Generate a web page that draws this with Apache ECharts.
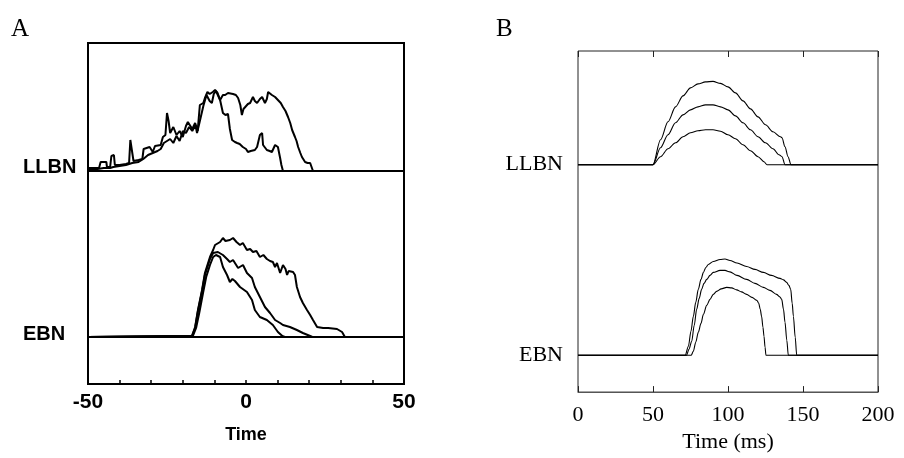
<!DOCTYPE html>
<html>
<head>
<meta charset="utf-8">
<script src="https://cdn.jsdelivr.net/npm/echarts@6/dist/echarts.min.js"></script>
<style>
html,body{margin:0;padding:0;background:#fff;}
#chart{width:904px;height:458px;}
</style>
</head>
<body>
<div id="chart"></div>
<script>
// ---------- DATA ----------
// Panel A (recorded, time in ms re saccade onset; firing in arbitrary units)
const aTicksShown = [-50, 0, 50];
const aLlbn1 = [[-50,3],[-48,3],[-46.5,3],[-46,9],[-44.2,9],[-44,4],[-43,4],[-42.6,15],[-41.8,16],[-41.5,6],[-40,6],[-38,7],[-37,8],[-36.6,31],[-36,30],[-35.6,10],[-34,11],[-32.8,12],[-32.4,22],[-30.5,24],[-29.5,19],[-28.8,25],[-27,26],[-26.3,34],[-25.5,36],[-25,58],[-24.5,50],[-24,38],[-23,44],[-22,36],[-21,40],[-20,34],[-19,45],[-18.4,49],[-17,42],[-16.1,48],[-15.3,40],[-14.6,66],[-13.5,68],[-13,73],[-12.2,79],[-11.5,77],[-10.5,79],[-9.8,81],[-9,78],[-8.2,71],[-7.3,58],[-6.5,56],[-5.7,57],[-5.1,42],[-4.4,31],[-3.5,29],[-2.8,28],[-2,27],[-1,24],[0,22],[0.6,19],[1.5,20],[2.8,21],[3.5,24],[4.4,36],[5.1,38],[5.4,26],[6.6,21],[7.5,20],[8.2,19],[9.2,26],[10.1,24],[10.8,13],[11.2,6],[11.7,0],[50,0]];
const aLlbn2 = [[-50,2],[-47,2],[-45,3],[-43,3],[-42,4],[-40,5],[-38,6],[-36,8],[-34,9],[-32.5,12],[-31,16],[-29.5,18],[-28,20],[-27,22],[-26,28],[-25,30],[-24,32],[-23,28],[-22,35],[-21,30],[-20,40],[-19,38],[-18,44],[-17,40],[-16,46],[-15.5,38],[-14.6,50],[-13.5,65],[-12.5,76],[-11.5,70],[-10.8,68],[-10.2,77],[-9.5,80],[-8.9,78],[-8.2,71],[-7.3,76],[-6.6,76],[-5.7,78],[-5.1,78],[-4.1,77],[-3.2,76],[-2.5,73],[-1.8,66],[-1.3,56],[-0.8,62],[-0.3,64],[0.6,67],[1.3,68],[2.2,74],[2.8,70],[3.5,68],[4.4,72],[5.1,74],[6,68],[6.6,72],[7.0,79],[7.6,78],[8.2,76],[9.2,74],[10.1,71],[11,68],[11.7,64],[12.5,60],[13.3,54],[14,48],[14.6,41],[15.5,34],[16,30],[16.5,24],[17.2,18],[17.7,14],[18.7,9],[19.5,8],[20.3,8],[21.2,0],[50,0]];
const aEbn1 = [[-50,0],[-16.8,1],[-15.8,9],[-14.8,24],[-13.6,44],[-12.6,60],[-11.4,72],[-10.4,80],[-9.5,82],[-8.9,84],[-8.2,80],[-7.3,70],[-6,62],[-5.1,55],[-4.3,58],[-3.5,56],[-1.9,50],[0.3,45],[1.9,37],[2.8,27],[4.4,20],[6.6,17],[8.5,12],[10.1,5],[11.5,1],[12.3,0],[50,0]];
const aEbn2 = [[-50,0],[-17.1,1],[-16.1,9],[-15.2,26],[-13.9,46],[-13,62],[-11.4,78],[-10.4,84],[-8.9,85],[-7.3,82],[-6,78],[-5.1,75],[-4.1,77],[-2.5,69],[-0.95,72],[0.3,64],[1.9,59],[2.8,50],[4.4,40],[6,30],[7.6,24],[9.2,17],[10.8,14],[11.7,12],[13.9,10],[16.1,7],[18,4],[20.3,1],[21,0],[50,0]];
const aEbn3 = [[-50,0],[-17.1,1],[-16.1,10],[-15.2,27],[-13.9,47],[-13,64],[-11.4,80],[-10.4,87],[-9.8,92],[-8.2,95],[-7.3,99],[-6.5,96],[-5.1,97],[-4.1,99],[-3,95],[-1.9,92],[-1,94],[0.3,87],[1.3,88],[2.2,85],[3.3,86],[4.4,80],[5.5,82],[6.6,78],[7.6,76],[8.5,75],[9.2,70],[9.8,74],[10.8,64],[11.7,72],[12.5,68],[13,62],[13.5,66],[14.9,65],[15.5,62],[16.1,50],[17.1,40],[18,34],[19.3,27],[20.3,22],[21.2,17],[22.5,10],[24.4,9],[26,9],[28.8,8],[30.4,5],[31.3,0],[50,0]];
const aBaseline = [[-50,0],[50,0]];

// Panel B (model, time in ms)
const bTicks = [0, 50, 100, 150, 200];
const bLlbn1 = [[0,0],[50,0],[55,25],[60,43],[65,58],[70,69],[75,77],[80,81],[85,83],[90,83.5],[95,81.5],[100,78],[105,72],[110,64],[115,56],[120,48],[125,40],[130,33],[135,28],[136,27],[138,18],[140,8],[142,0],[200,0]];
const bLlbn2 = [[0,0],[50,0],[55,17],[60,30],[65,42],[70,50],[75,55],[80,58],[85,60],[90,60],[95,58],[100,55],[105,49],[110,42],[115,35],[120,28],[125,22],[130,16],[134,10],[136,8],[138,0],[200,0]];
const bLlbn3 = [[0,0],[50,0],[55,8],[60,16],[65,22],[70,28],[75,32],[80,34],[85,35],[90,35],[95,33.5],[100,30],[105,26],[110,20],[115,14],[120,8],[124,3],[126,0],[200,0]];
const bEbn1 = [[0,0],[71.5,0],[73.6,9],[75.3,24],[76.9,39],[78.5,53],[80.2,66],[82,76],[83.6,83],[85.2,88],[86.9,91],[90.2,94],[94.7,96],[98,96.5],[101.3,95],[106,92.5],[112.4,89],[118,86],[123.6,83],[129,80],[134.7,77],[137,75.5],[139.1,73],[140.6,70],[141.8,66],[142.8,52],[143.6,39],[144.8,18],[145.8,0],[200,0]];
const bEbn2 = [[0,0],[72.4,0],[74,6],[75.8,14],[77.5,30],[79.1,46],[80.8,57],[82.4,66],[84,72],[85.8,76],[88,80],[90.2,83],[94.7,85],[98,85],[101.3,83.5],[106,80],[112.4,76],[118,72],[123.6,68],[128,65],[132.4,61],[134.5,58.5],[135.8,56],[137,46],[138,33],[139.2,15],[140.2,0],[200,0]];
const bEbn3 = [[0,0],[75.5,0],[76.9,4],[78.5,13],[80.2,23],[82,32],[83.6,41],[85.8,50],[88,56],[90.2,61],[92.4,64],[95.5,66.5],[99.1,68],[102.4,67.5],[105.8,65.5],[109,63.5],[112.4,61],[116,58],[119.2,55],[120.5,52],[121.5,46],[122.4,39],[123.3,28],[124,19],[124.7,8],[125.3,0],[200,0]];

// ---------- LAYOUT ----------
const A_LLBN_BASE = 213, A_EBN_BASE = 47, A_YMAX = 341;
const B_LLBN_BASE = 228, B_EBN_BASE = 37, B_YMAX = 342;

function shift(arr, base){ return arr.map(p => [p[0], p[1] + base]); }
function lineSeries(data, xi, yi, w, smooth){
  return {type:'line', xAxisIndex:xi, yAxisIndex:yi, data:data, showSymbol:false, symbol:'none',
    silent:true, animation:false, smooth:smooth||false, smoothMonotone:'x',
    lineStyle:{color:'#000', width:w}, z:3};
}

const chart = echarts.init(document.getElementById('chart'), null, {renderer:'canvas'});
const sansBold = {fontFamily:'Liberation Sans, Arial, sans-serif', fontWeight:'bold', color:'#000'};
const serif = {fontFamily:'Liberation Serif, Times New Roman, serif', color:'#000'};

const option = {
  backgroundColor:'#fff',
  animation:false,
  grid:[
    {left:88, top:43, width:316, height:341, show:true, borderColor:'#000', borderWidth:2, backgroundColor:'transparent'},
    {left:578, top:51, width:300, height:342, show:true, borderColor:'#222', borderWidth:1, backgroundColor:'transparent'}
  ],
  xAxis:[
    {type:'value', gridIndex:0, min:-50, max:50, interval:10, position:'bottom',
      axisLine:{show:true, lineStyle:{color:'#000', width:2}},
      axisTick:{show:true, inside:true, length:4, lineStyle:{color:'#000', width:1.5}},
      splitLine:{show:false},
      axisLabel:Object.assign({fontSize:21, margin:8,
        formatter: v => aTicksShown.indexOf(v) >= 0 ? String(v) : ''}, sansBold),
      name:'Time', nameLocation:'middle', nameGap:42,
      nameTextStyle:Object.assign({fontSize:18}, sansBold)
    },
    {type:'value', gridIndex:1, min:0, max:200, interval:50, position:'bottom',
      axisLine:{show:true, lineStyle:{color:'#555', width:1}},
      axisTick:{show:true, inside:true, length:6, lineStyle:{color:'#222', width:1}},
      splitLine:{show:false},
      axisLabel:Object.assign({fontSize:22, margin:12,
        formatter: v => bTicks.indexOf(v) >= 0 ? String(v) : ''}, serif),
      name:'Time (ms)', nameLocation:'middle', nameGap:34,
      nameTextStyle:Object.assign({fontSize:22}, serif)
    },
    {type:'value', gridIndex:1, min:0, max:200, interval:50, position:'top',
      axisLine:{show:false},
      axisTick:{show:true, inside:true, length:6, lineStyle:{color:'#222', width:1}},
      splitLine:{show:false}, axisLabel:{show:false}
    }
  ],
  yAxis:[
    {type:'value', gridIndex:0, min:0, max:A_YMAX,
      axisLine:{show:false}, axisTick:{show:false}, splitLine:{show:false},
      axisLabel:Object.assign({fontSize:20, margin:65, align:'left',
        customValues:[A_EBN_BASE + 3, A_LLBN_BASE + 4],
        formatter: v => v === A_LLBN_BASE + 4 ? 'LLBN' : 'EBN'}, sansBold)
    },
    {type:'value', gridIndex:1, min:0, max:B_YMAX,
      axisLine:{show:false}, axisTick:{show:false}, splitLine:{show:false},
      axisLabel:Object.assign({fontSize:22, margin:15, align:'right',
        customValues:[B_EBN_BASE, B_LLBN_BASE],
        formatter: v => v === B_LLBN_BASE ? 'LLBN' : 'EBN'}, serif)
    }
  ],
  graphic:[
    {type:'text', left:11, top:17, style:{text:'A', font:'25px "Liberation Serif", serif', fill:'#000'}},
    {type:'text', left:496, top:17, style:{text:'B', font:'25px "Liberation Serif", serif', fill:'#000'}}
  ],
  series:[
    lineSeries(shift(aBaseline, A_LLBN_BASE), 0, 0, 2.2),
    lineSeries(shift(aBaseline, A_EBN_BASE), 0, 0, 2.2),
    lineSeries(shift(aLlbn1, A_LLBN_BASE), 0, 0, 2),
    lineSeries(shift(aLlbn2, A_LLBN_BASE), 0, 0, 2),
    lineSeries(shift(aEbn1, A_EBN_BASE), 0, 0, 2),
    lineSeries(shift(aEbn2, A_EBN_BASE), 0, 0, 2),
    lineSeries(shift(aEbn3, A_EBN_BASE), 0, 0, 2),
    lineSeries(shift(bLlbn1, B_LLBN_BASE), 1, 1, 1.1, 0.3),
    lineSeries(shift(bLlbn2, B_LLBN_BASE), 1, 1, 1.1, 0.3),
    lineSeries(shift(bLlbn3, B_LLBN_BASE), 1, 1, 1.1, 0.3),
    lineSeries(shift(bEbn1, B_EBN_BASE), 1, 1, 1.1, 0.3),
    lineSeries(shift(bEbn2, B_EBN_BASE), 1, 1, 1.1, 0.3),
    lineSeries(shift(bEbn3, B_EBN_BASE), 1, 1, 1.1, 0.3)
  ]
};
chart.setOption(option);
</script>
</body>
</html>
